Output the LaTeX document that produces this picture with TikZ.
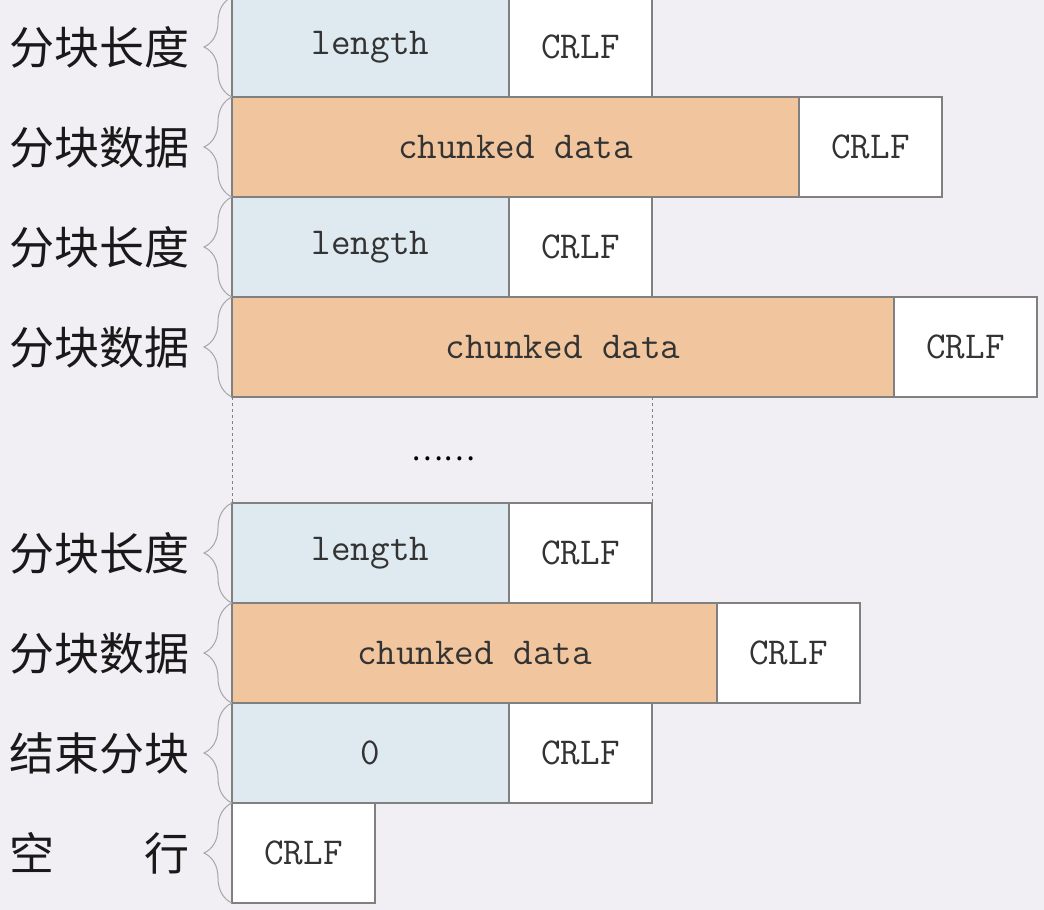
\documentclass[tikz,border=0pt]{standalone}
\usepackage{fontspec}
\newfontfamily\cjk{Noto Sans CJK SC}
\usetikzlibrary{positioning,decorations.pathreplacing}
\definecolor{lenblue}{HTML}{DEEAF0}
\definecolor{dataorange}{HTML}{F1C59E}
\definecolor{bggray}{HTML}{F1EFF4}
\definecolor{edgegray}{HTML}{808080}

\begin{document}
\begin{tikzpicture}[
    x=1pt,y=-1pt,
    field/.style={
        draw=edgegray,
        line width=1.2pt,
        minimum height=100pt,
        inner sep=0pt,
        outer sep=0pt,
        anchor=north west,
        text=black!80,
        font=\fontsize{38}{42}\selectfont\ttfamily
    },
    lenbox/.style={field, fill=lenblue, minimum width=277pt},
    databox/.style={field, fill=dataorange},
    crlfbox/.style={field, fill=white, minimum width=143pt},
    tag/.style={
        anchor=east,
        inner sep=0pt,
        text=black!90,
        font=\fontsize{45}{50}\selectfont\cjk
    },
    grp/.style={
        draw=edgegray!70,
        line width=1pt,
        decorate,
        decoration={brace, amplitude=28pt}
    }
]

    % background and bounding box
    \fill[bggray] (0,0) rectangle (1044,910);
    \useasboundingbox (0,0) rectangle (1044,910);

    % first chunk
    \node[lenbox] (len1) at (232,-3) {length};
    \node[crlfbox, right=0pt of len1] (crlf1) {CRLF};
    \node[databox, minimum width=567pt] (data1) at (232,97) {chunked data};
    \node[crlfbox, right=0pt of data1] (crlf2) {CRLF};

    % second chunk
    \node[lenbox] (len2) at (232,197) {length};
    \node[crlfbox, right=0pt of len2] (crlf3) {CRLF};
    \node[databox, minimum width=662pt] (data2) at (232,297) {chunked data};
    \node[crlfbox, right=0pt of data2] (crlf4) {CRLF};

    % gap
    \node[font=\fontsize{30}{34}\selectfont\cjk] (dots) at (443,459) {……};

    % last chunk
    \node[lenbox] (len3) at (232,503) {length};
    \node[crlfbox, right=0pt of len3] (crlf5) {CRLF};
    \node[databox, minimum width=485pt] (data3) at (232,603) {chunked data};
    \node[crlfbox, right=0pt of data3] (crlf6) {CRLF};

    % end
    \node[lenbox] (zero) at (232,703) {0};
    \node[crlfbox, right=0pt of zero] (crlf7) {CRLF};
    \node[crlfbox] (crlf8) at (232,803) {CRLF};

    \draw[edgegray, dashed, line width=0.8pt] (data2.south west) -- (len3.north west);
    \draw[edgegray, dashed, line width=0.8pt] (crlf5.north east |- data2.south) -- (crlf5.north east);

    % labels
    \node[tag] (t1) at (190,47) {分块长度};
    \node[tag] (t2) at (190,147) {分块数据};
    \node[tag] (t3) at (190,247) {分块长度};
    \node[tag] (t4) at (190,347) {分块数据};
    \node[tag] (t5) at (190,553) {分块长度};
    \node[tag] (t6) at (190,653) {分块数据};
    \node[tag] (t7) at (190,753) {结束分块};
    \node[tag] (t8) at (190,853) {空\hspace{2em}行};

    \draw[grp] (len1.south west) -- (len1.north west);
    \draw[grp] (data1.south west) -- (data1.north west);
    \draw[grp] (len2.south west) -- (len2.north west);
    \draw[grp] (data2.south west) -- (data2.north west);
    \draw[grp] (len3.south west) -- (len3.north west);
    \draw[grp] (data3.south west) -- (data3.north west);
    \draw[grp] (zero.south west) -- (zero.north west);
    \draw[grp] (crlf8.south west) -- (crlf8.north west);

\end{tikzpicture}
\end{document}
